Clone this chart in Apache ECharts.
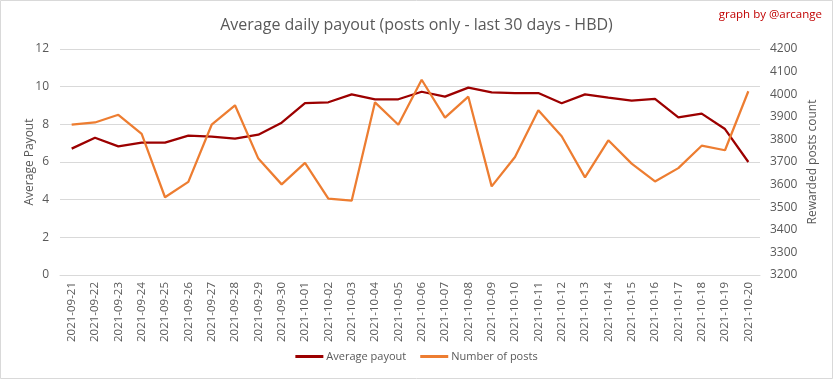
<!DOCTYPE html>
<html><head><meta charset="utf-8">
<script src="https://cdn.jsdelivr.net/npm/echarts@6/dist/echarts.min.js"></script>
<style>html,body{margin:0;padding:0;background:#fff}#c{width:833px;height:379px}</style>
</head><body><div id="c"></div>
<script>
const categories = ["2021-09-21","2021-09-22","2021-09-23","2021-09-24","2021-09-25","2021-09-26","2021-09-27","2021-09-28","2021-09-29","2021-09-30","2021-10-01","2021-10-02","2021-10-03","2021-10-04","2021-10-05","2021-10-06","2021-10-07","2021-10-08","2021-10-09","2021-10-10","2021-10-11","2021-10-12","2021-10-13","2021-10-14","2021-10-15","2021-10-16","2021-10-17","2021-10-18","2021-10-19","2021-10-20"];
const averagePayout = [6.71,7.29,6.83,7.03,7.03,7.40,7.35,7.24,7.45,8.09,9.12,9.17,9.59,9.33,9.33,9.73,9.47,9.95,9.70,9.66,9.66,9.12,9.59,9.42,9.26,9.35,8.37,8.57,7.75,6.00];
const numberOfPosts = [3865,3875,3909,3824,3544,3612,3865,3951,3715,3601,3696,3538,3529,3964,3865,4064,3896,3989,3592,3722,3929,3814,3632,3796,3693,3614,3673,3772,3752,4013];
const FONT = "'Open Sans',sans-serif";
const chart = echarts.init(document.getElementById('c'), null, {renderer:'canvas'});
chart.setOption({
  animation:false,
  backgroundColor:'#fff',
  title:{text:'Average daily payout (posts only - last 30 days - HBD)',left:'center',top:12,
    textStyle:{fontFamily:FONT,fontSize:16,fontWeight:'normal',color:'#595959'}},
  graphic:[
    {type:'rect',shape:{x:0.5,y:0.5,width:832,height:378},style:{fill:'none',stroke:'#d9d9d9',lineWidth:1}},
    {type:'text',right:11,top:9,style:{text:'graph by @arcange',fill:'#c00000',font:"11.5px 'Open Sans',sans-serif"}}
  ],
  legend:{bottom:12,left:'center',itemWidth:28,itemHeight:3,itemGap:14,icon:'rect',
    textStyle:{fontFamily:FONT,fontSize:11,color:'#595959',padding:[0,0,0,-2]},
    data:['Average payout','Number of posts']},
  grid:{left:60,right:73,top:49,bottom:104,containLabel:false},
  xAxis:{type:'category',data:categories,boundaryGap:true,
    axisLine:{lineStyle:{color:'#d9d9d9'}},axisTick:{show:false},
    axisLabel:{rotate:90,fontFamily:FONT,fontSize:11.5,color:'#595959',margin:7,interval:0}},
  yAxis:[
    {type:'value',min:0,max:12,interval:2,name:'Average Payout',nameLocation:'middle',nameGap:24,
     nameMoveOverlap:false,
     nameTextStyle:{fontFamily:FONT,fontSize:12,color:'#595959'},
     axisLabel:{fontFamily:FONT,fontSize:12,color:'#595959',margin:11},
     axisLine:{show:false},axisTick:{show:false},
     splitLine:{lineStyle:{color:'#d9d9d9',width:1}}},
    {type:'value',min:3200,max:4200,interval:100,name:'Rewarded posts count',nameLocation:'middle',nameGap:47,
     nameRotate:90,nameMoveOverlap:false,
     nameTextStyle:{fontFamily:FONT,fontSize:12,color:'#595959'},
     axisLabel:{fontFamily:FONT,fontSize:12,color:'#595959',margin:10,formatter:v=>String(v)},
     axisLine:{show:false},axisTick:{show:false},splitLine:{show:false}}
  ],
  series:[
    {name:'Average payout',type:'line',data:averagePayout,yAxisIndex:0,symbol:'none',
     lineStyle:{color:'#9c0000',width:2.25},itemStyle:{color:'#9c0000'}},
    {name:'Number of posts',type:'line',data:numberOfPosts,yAxisIndex:1,symbol:'none',
     lineStyle:{color:'#ed7d31',width:2.25},itemStyle:{color:'#ed7d31'}}
  ]
});
</script></body></html>
